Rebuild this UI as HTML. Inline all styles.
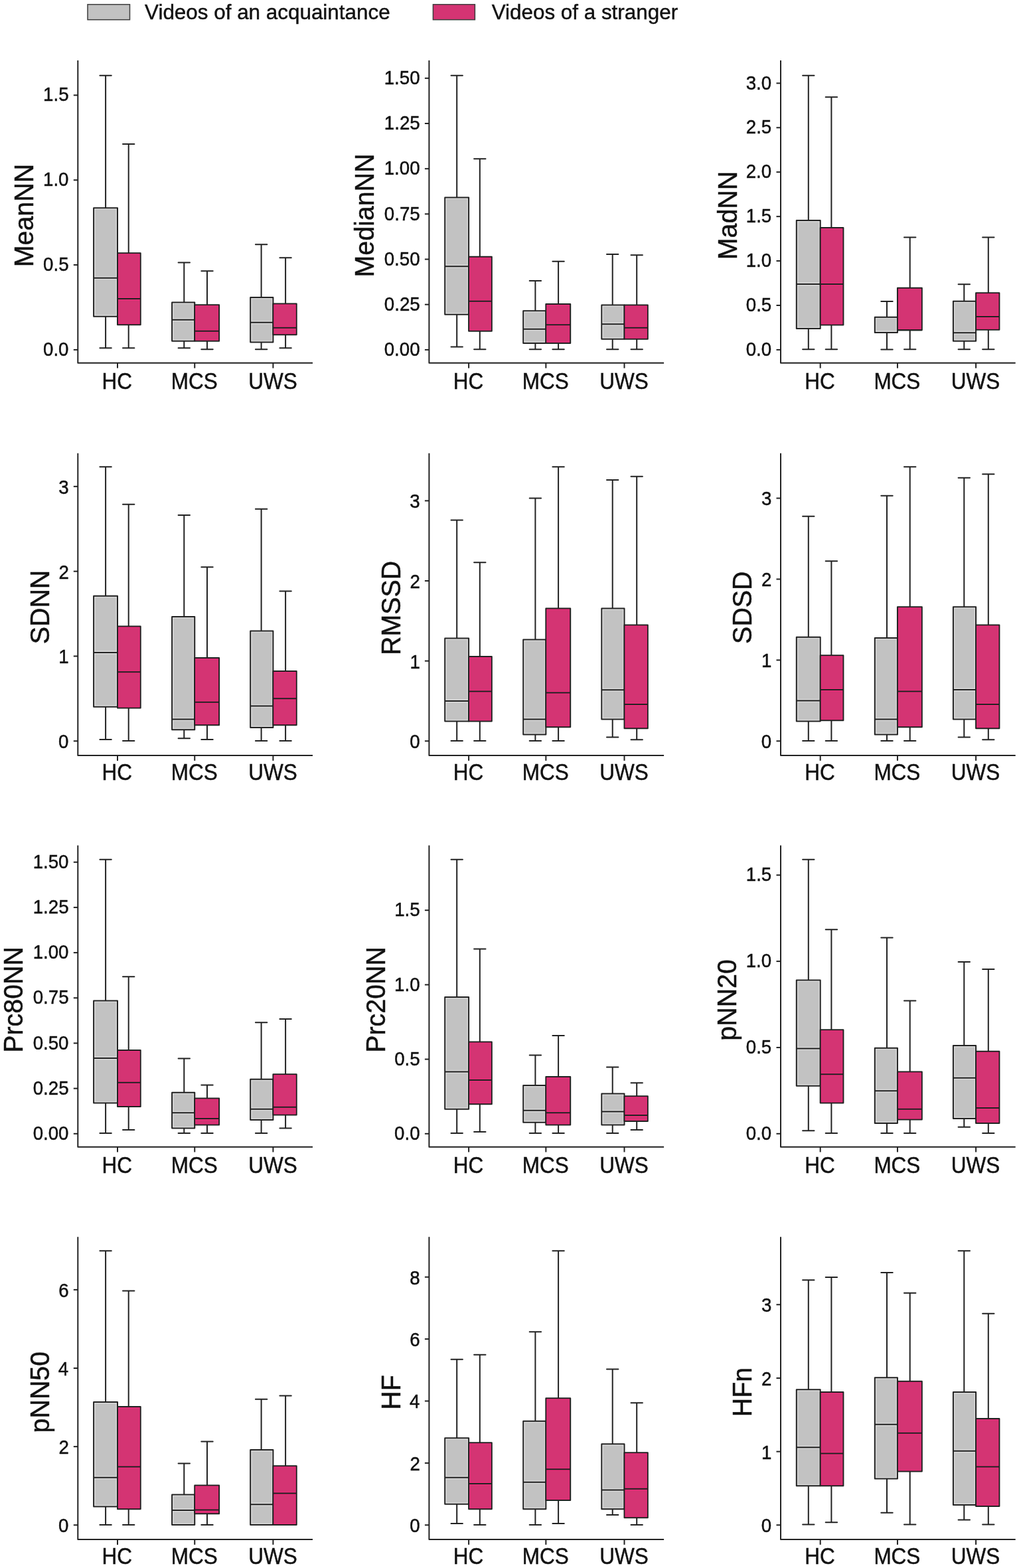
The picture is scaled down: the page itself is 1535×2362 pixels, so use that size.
<!DOCTYPE html>
<html><head><meta charset="utf-8"><title>HRV boxplots</title>
<style>
html,body{margin:0;padding:0;background:#fff;}
body{width:1535px;height:2362px;overflow:hidden;}
svg{display:block;}
.t{font-family:"Liberation Sans",Arial,sans-serif;fill:#111;stroke:#111;stroke-width:0.45px;}
.w{fill:none;stroke:#222;stroke-width:2.0;stroke-linecap:round;}
.b{stroke:#222;stroke-width:2.0;stroke-linejoin:round;}
.m{fill:none;stroke:#222;stroke-width:2.0;}
.a{fill:none;stroke:#222;stroke-width:2.0;stroke-linejoin:round;}
</style></head><body>
<svg width="1535" height="2362" viewBox="0 0 1535 2362">
<rect width="1535" height="2362" fill="#fff"/>
<rect x="132" y="6.7" width="63.5" height="23" fill="#c2c2c2" stroke="#3c3c3c" stroke-width="1.5"/>
<rect x="652.4" y="6.7" width="63" height="23" fill="#d43473" stroke="#3c3c3c" stroke-width="1.5"/>
<text x="218.04" y="29.1" font-size="31.42" class="t">Videos of an acquaintance</text>
<text x="740.64" y="29.1" font-size="31.42" class="t">Videos of a stranger</text>
<g><path d="M159.1 113.75V313.25M150.4 113.75H167.8M159.1 476.75V524.25M150.4 524.25H167.8" class="w"/><rect x="141.1" y="313.25" width="35.9" height="163.5" fill="#c2c2c2" class="b"/><rect x="142.95" y="315.1" width="32.2" height="159.8" fill="none" stroke="#dcdcdc" stroke-width="1.1"/><path d="M142.95 416.9H175.15M142.95 420.6H175.15" stroke="#dcdcdc" stroke-width="1.1" fill="none"/><path d="M141.1 418.75H177" class="m"/><path d="M193.7 217V381.25M185 217H202.4M193.7 489.25V524.25M185 524.25H202.4" class="w"/><rect x="177" y="381.25" width="34.7" height="108" fill="#d43473" class="b"/><rect x="178.85" y="383.1" width="31" height="104.3" fill="none" stroke="#ec2b7a" stroke-width="1.1"/><path d="M178.85 448.15H209.85M178.85 451.85H209.85" stroke="#ec2b7a" stroke-width="1.1" fill="none"/><path d="M177 450H211.7" class="m"/><path d="M277.3 395.5V455.5M268.6 395.5H286M277.3 513.75V524.25M268.6 524.25H286" class="w"/><rect x="259.1" y="455.5" width="34.15" height="58.25" fill="#c2c2c2" class="b"/><rect x="260.95" y="457.35" width="30.45" height="54.55" fill="none" stroke="#dcdcdc" stroke-width="1.1"/><path d="M260.95 479.9H291.4M260.95 483.6H291.4" stroke="#dcdcdc" stroke-width="1.1" fill="none"/><path d="M259.1 481.75H293.25" class="m"/><path d="M312 408.25V459.25M303.3 408.25H320.7M312 513.75V526.25M303.3 526.25H320.7" class="w"/><rect x="293.25" y="459.25" width="36.85" height="54.5" fill="#d43473" class="b"/><rect x="295.1" y="461.1" width="33.15" height="50.8" fill="none" stroke="#ec2b7a" stroke-width="1.1"/><path d="M295.1 496.9H328.25M295.1 500.6H328.25" stroke="#ec2b7a" stroke-width="1.1" fill="none"/><path d="M293.25 498.75H330.1" class="m"/><path d="M393.6 368.25V448M384.9 368.25H402.3M393.6 515.5V526.25M384.9 526.25H402.3" class="w"/><rect x="377.2" y="448" width="34.2" height="67.5" fill="#c2c2c2" class="b"/><rect x="379.05" y="449.85" width="30.5" height="63.8" fill="none" stroke="#dcdcdc" stroke-width="1.1"/><path d="M379.05 483.9H409.55M379.05 487.6H409.55" stroke="#dcdcdc" stroke-width="1.1" fill="none"/><path d="M377.2 485.75H411.4" class="m"/><path d="M430.1 388.25V457.5M421.4 388.25H438.8M430.1 504.25V524.25M421.4 524.25H438.8" class="w"/><rect x="411.4" y="457.5" width="35.3" height="46.75" fill="#d43473" class="b"/><rect x="413.25" y="459.35" width="31.6" height="43.05" fill="none" stroke="#ec2b7a" stroke-width="1.1"/><path d="M413.25 491.9H444.85M413.25 495.6H444.85" stroke="#ec2b7a" stroke-width="1.1" fill="none"/><path d="M411.4 493.75H446.7" class="m"/><path d="M117.3 91.1V546.8H471" class="a"/><path d="M177 546.8V554.6" class="m"/><path d="M293.25 546.8V554.6" class="m"/><path d="M411.4 546.8V554.6" class="m"/><path d="M110.8 526.9H117.3" class="m"/><text class="t" font-size="27.67" transform="translate(65.02 536.08) scale(1 1.07)">0.0</text><path d="M110.8 399.07H117.3" class="m"/><text class="t" font-size="27.67" transform="translate(65.1 408.26) scale(1 1.07)">0.5</text><path d="M110.8 271.25H117.3" class="m"/><text class="t" font-size="27.67" transform="translate(65.02 280.43) scale(1 1.07)">1.0</text><path d="M110.8 143.42H117.3" class="m"/><text class="t" font-size="27.67" transform="translate(65.1 152.46) scale(1 1.07)">1.5</text><text class="t" font-size="31.5" transform="translate(153.56 585.8) scale(1 1.14)">HC</text><text class="t" font-size="31.5" transform="translate(257.69 585.8) scale(1 1.14)">MCS</text><text class="t" font-size="31.5" transform="translate(374.17 585.8) scale(1 1.14)">UWS</text><text class="t" font-size="39.4" transform="translate(50.23 402.26) rotate(-90) scale(1 1.045)">MeanNN</text></g>
<g><path d="M688.2 113.75V297.5M679.5 113.75H696.9M688.2 473.75V522.5M679.5 522.5H696.9" class="w"/><rect x="670.2" y="297.5" width="35.9" height="176.25" fill="#c2c2c2" class="b"/><rect x="672.05" y="299.35" width="32.2" height="172.55" fill="none" stroke="#dcdcdc" stroke-width="1.1"/><path d="M672.05 399.4H704.25M672.05 403.1H704.25" stroke="#dcdcdc" stroke-width="1.1" fill="none"/><path d="M670.2 401.25H706.1" class="m"/><path d="M722.8 239.25V386.75M714.1 239.25H731.5M722.8 498.75V526.25M714.1 526.25H731.5" class="w"/><rect x="706.1" y="386.75" width="34.7" height="112" fill="#d43473" class="b"/><rect x="707.95" y="388.6" width="31" height="108.3" fill="none" stroke="#ec2b7a" stroke-width="1.1"/><path d="M707.95 451.9H738.95M707.95 455.6H738.95" stroke="#ec2b7a" stroke-width="1.1" fill="none"/><path d="M706.1 453.75H740.8" class="m"/><path d="M806.4 423V468.25M797.7 423H815.1M806.4 517V526.25M797.7 526.25H815.1" class="w"/><rect x="788.2" y="468.25" width="34.15" height="48.75" fill="#c2c2c2" class="b"/><rect x="790.05" y="470.1" width="30.45" height="45.05" fill="none" stroke="#dcdcdc" stroke-width="1.1"/><path d="M790.05 493.9H820.5M790.05 497.6H820.5" stroke="#dcdcdc" stroke-width="1.1" fill="none"/><path d="M788.2 495.75H822.35" class="m"/><path d="M841.1 393.75V458M832.4 393.75H849.8M841.1 517V526.25M832.4 526.25H849.8" class="w"/><rect x="822.35" y="458" width="36.85" height="59" fill="#d43473" class="b"/><rect x="824.2" y="459.85" width="33.15" height="55.3" fill="none" stroke="#ec2b7a" stroke-width="1.1"/><path d="M824.2 487.4H857.35M824.2 491.1H857.35" stroke="#ec2b7a" stroke-width="1.1" fill="none"/><path d="M822.35 489.25H859.2" class="m"/><path d="M922.7 383V459.5M914 383H931.4M922.7 510.75V526.25M914 526.25H931.4" class="w"/><rect x="906.3" y="459.5" width="34.2" height="51.25" fill="#c2c2c2" class="b"/><rect x="908.15" y="461.35" width="30.5" height="47.55" fill="none" stroke="#dcdcdc" stroke-width="1.1"/><path d="M908.15 486.4H938.65M908.15 490.1H938.65" stroke="#dcdcdc" stroke-width="1.1" fill="none"/><path d="M906.3 488.25H940.5" class="m"/><path d="M959.2 384.25V459.5M950.5 384.25H967.9M959.2 510.75V526.25M950.5 526.25H967.9" class="w"/><rect x="940.5" y="459.5" width="35.3" height="51.25" fill="#d43473" class="b"/><rect x="942.35" y="461.35" width="31.6" height="47.55" fill="none" stroke="#ec2b7a" stroke-width="1.1"/><path d="M942.35 491.9H973.95M942.35 495.6H973.95" stroke="#ec2b7a" stroke-width="1.1" fill="none"/><path d="M940.5 493.75H975.8" class="m"/><path d="M646.4 91.1V546.8H1000.1" class="a"/><path d="M706.1 546.8V554.6" class="m"/><path d="M822.35 546.8V554.6" class="m"/><path d="M940.5 546.8V554.6" class="m"/><path d="M639.9 526.9H646.4" class="m"/><text class="t" font-size="27.67" transform="translate(578.73 536.08) scale(1 1.07)">0.00</text><path d="M639.9 458.72H646.4" class="m"/><text class="t" font-size="27.67" transform="translate(578.82 467.91) scale(1 1.07)">0.25</text><path d="M639.9 390.54H646.4" class="m"/><text class="t" font-size="27.67" transform="translate(578.73 399.73) scale(1 1.07)">0.50</text><path d="M639.9 322.36H646.4" class="m"/><text class="t" font-size="27.67" transform="translate(578.82 331.55) scale(1 1.07)">0.75</text><path d="M639.9 254.19H646.4" class="m"/><text class="t" font-size="27.67" transform="translate(578.73 263.37) scale(1 1.07)">1.00</text><path d="M639.9 186.01H646.4" class="m"/><text class="t" font-size="27.67" transform="translate(578.82 195.19) scale(1 1.07)">1.25</text><path d="M639.9 117.83H646.4" class="m"/><text class="t" font-size="27.67" transform="translate(578.73 127.01) scale(1 1.07)">1.50</text><text class="t" font-size="31.5" transform="translate(682.66 585.8) scale(1 1.14)">HC</text><text class="t" font-size="31.5" transform="translate(786.79 585.8) scale(1 1.14)">MCS</text><text class="t" font-size="31.5" transform="translate(903.27 585.8) scale(1 1.14)">UWS</text><text class="t" font-size="39.4" transform="translate(563.23 417.58) rotate(-90) scale(1 1.045)">MedianNN</text></g>
<g><path d="M1217.8 113.75V332M1209.1 113.75H1226.5M1217.8 495V526.25M1209.1 526.25H1226.5" class="w"/><rect x="1199.8" y="332" width="35.9" height="163" fill="#c2c2c2" class="b"/><rect x="1201.65" y="333.85" width="32.2" height="159.3" fill="none" stroke="#dcdcdc" stroke-width="1.1"/><path d="M1201.65 426.15H1233.85M1201.65 429.85H1233.85" stroke="#dcdcdc" stroke-width="1.1" fill="none"/><path d="M1199.8 428H1235.7" class="m"/><path d="M1252.4 146.25V343M1243.7 146.25H1261.1M1252.4 489.5V526.25M1243.7 526.25H1261.1" class="w"/><rect x="1235.7" y="343" width="34.7" height="146.5" fill="#d43473" class="b"/><rect x="1237.55" y="344.85" width="31" height="142.8" fill="none" stroke="#ec2b7a" stroke-width="1.1"/><path d="M1237.55 426.15H1268.55M1237.55 429.85H1268.55" stroke="#ec2b7a" stroke-width="1.1" fill="none"/><path d="M1235.7 428H1270.4" class="m"/><path d="M1336 453.9V477.7M1327.3 453.9H1344.7M1336 500.9V526.6M1327.3 526.6H1344.7" class="w"/><rect x="1317.8" y="477.7" width="34.15" height="23.2" fill="#c2c2c2" class="b"/><rect x="1319.65" y="479.55" width="30.45" height="19.5" fill="none" stroke="#dcdcdc" stroke-width="1.1"/><path d="M1319.65 499.05H1350.1" stroke="#dcdcdc" stroke-width="1.1" fill="none"/><path d="M1317.8 500.9H1351.95" class="m"/><path d="M1370.7 357.5V433.75M1362 357.5H1379.4M1370.7 497.3V526.25M1362 526.25H1379.4" class="w"/><rect x="1351.95" y="433.75" width="36.85" height="63.55" fill="#d43473" class="b"/><rect x="1353.8" y="435.6" width="33.15" height="59.85" fill="none" stroke="#ec2b7a" stroke-width="1.1"/><path d="M1353.8 495.45H1386.95" stroke="#ec2b7a" stroke-width="1.1" fill="none"/><path d="M1351.95 497.3H1388.8" class="m"/><path d="M1452.3 428.25V453.75M1443.6 428.25H1461M1452.3 513.75V526.25M1443.6 526.25H1461" class="w"/><rect x="1435.9" y="453.75" width="34.2" height="60" fill="#c2c2c2" class="b"/><rect x="1437.75" y="455.6" width="30.5" height="56.3" fill="none" stroke="#dcdcdc" stroke-width="1.1"/><path d="M1437.75 499.4H1468.25M1437.75 503.1H1468.25" stroke="#dcdcdc" stroke-width="1.1" fill="none"/><path d="M1435.9 501.25H1470.1" class="m"/><path d="M1488.8 357.5V441.25M1480.1 357.5H1497.5M1488.8 496.75V526.25M1480.1 526.25H1497.5" class="w"/><rect x="1470.1" y="441.25" width="35.3" height="55.5" fill="#d43473" class="b"/><rect x="1471.95" y="443.1" width="31.6" height="51.8" fill="none" stroke="#ec2b7a" stroke-width="1.1"/><path d="M1471.95 475.15H1503.55M1471.95 478.85H1503.55" stroke="#ec2b7a" stroke-width="1.1" fill="none"/><path d="M1470.1 477H1505.4" class="m"/><path d="M1176 91.1V546.8H1529.7" class="a"/><path d="M1235.7 546.8V554.6" class="m"/><path d="M1351.95 546.8V554.6" class="m"/><path d="M1470.1 546.8V554.6" class="m"/><path d="M1169.5 526.9H1176" class="m"/><text class="t" font-size="27.67" transform="translate(1123.72 536.08) scale(1 1.07)">0.0</text><path d="M1169.5 459.98H1176" class="m"/><text class="t" font-size="27.67" transform="translate(1123.8 469.17) scale(1 1.07)">0.5</text><path d="M1169.5 393.06H1176" class="m"/><text class="t" font-size="27.67" transform="translate(1123.72 402.25) scale(1 1.07)">1.0</text><path d="M1169.5 326.14H1176" class="m"/><text class="t" font-size="27.67" transform="translate(1123.8 335.18) scale(1 1.07)">1.5</text><path d="M1169.5 259.22H1176" class="m"/><text class="t" font-size="27.67" transform="translate(1123.72 268.41) scale(1 1.07)">2.0</text><path d="M1169.5 192.3H1176" class="m"/><text class="t" font-size="27.67" transform="translate(1123.8 201.49) scale(1 1.07)">2.5</text><path d="M1169.5 125.38H1176" class="m"/><text class="t" font-size="27.67" transform="translate(1123.72 134.57) scale(1 1.07)">3.0</text><text class="t" font-size="31.5" transform="translate(1212.26 585.8) scale(1 1.14)">HC</text><text class="t" font-size="31.5" transform="translate(1316.39 585.8) scale(1 1.14)">MCS</text><text class="t" font-size="31.5" transform="translate(1432.87 585.8) scale(1 1.14)">UWS</text><text class="t" font-size="39.4" transform="translate(1109.53 391.3) rotate(-90) scale(1 1.045)">MadNN</text></g>
<g><path d="M159.1 703.3V897.75M150.4 703.3H167.8M159.1 1064.75V1114M150.4 1114H167.8" class="w"/><rect x="141.1" y="897.75" width="35.9" height="167" fill="#c2c2c2" class="b"/><rect x="142.95" y="899.6" width="32.2" height="163.3" fill="none" stroke="#dcdcdc" stroke-width="1.1"/><path d="M142.95 981.15H175.15M142.95 984.85H175.15" stroke="#dcdcdc" stroke-width="1.1" fill="none"/><path d="M141.1 983H177" class="m"/><path d="M193.7 759.75V943.5M185 759.75H202.4M193.7 1066.5V1116M185 1116H202.4" class="w"/><rect x="177" y="943.5" width="34.7" height="123" fill="#d43473" class="b"/><rect x="178.85" y="945.35" width="31" height="119.3" fill="none" stroke="#ec2b7a" stroke-width="1.1"/><path d="M178.85 1010.4H209.85M178.85 1014.1H209.85" stroke="#ec2b7a" stroke-width="1.1" fill="none"/><path d="M177 1012.25H211.7" class="m"/><path d="M277.3 776V929M268.6 776H286M277.3 1099.25V1112.25M268.6 1112.25H286" class="w"/><rect x="259.1" y="929" width="34.15" height="170.25" fill="#c2c2c2" class="b"/><rect x="260.95" y="930.85" width="30.45" height="166.55" fill="none" stroke="#dcdcdc" stroke-width="1.1"/><path d="M260.95 1081.65H291.4M260.95 1085.35H291.4" stroke="#dcdcdc" stroke-width="1.1" fill="none"/><path d="M259.1 1083.5H293.25" class="m"/><path d="M312 854.25V991M303.3 854.25H320.7M312 1092.25V1114M303.3 1114H320.7" class="w"/><rect x="293.25" y="991" width="36.85" height="101.25" fill="#d43473" class="b"/><rect x="295.1" y="992.85" width="33.15" height="97.55" fill="none" stroke="#ec2b7a" stroke-width="1.1"/><path d="M295.1 1055.9H328.25M295.1 1059.6H328.25" stroke="#ec2b7a" stroke-width="1.1" fill="none"/><path d="M293.25 1057.75H330.1" class="m"/><path d="M393.6 766.75V950.5M384.9 766.75H402.3M393.6 1096V1116M384.9 1116H402.3" class="w"/><rect x="377.2" y="950.5" width="34.2" height="145.5" fill="#c2c2c2" class="b"/><rect x="379.05" y="952.35" width="30.5" height="141.8" fill="none" stroke="#dcdcdc" stroke-width="1.1"/><path d="M379.05 1061.65H409.55M379.05 1065.35H409.55" stroke="#dcdcdc" stroke-width="1.1" fill="none"/><path d="M377.2 1063.5H411.4" class="m"/><path d="M430.1 890.5V1011M421.4 890.5H438.8M430.1 1092.25V1116M421.4 1116H438.8" class="w"/><rect x="411.4" y="1011" width="35.3" height="81.25" fill="#d43473" class="b"/><rect x="413.25" y="1012.85" width="31.6" height="77.55" fill="none" stroke="#ec2b7a" stroke-width="1.1"/><path d="M413.25 1050.4H444.85M413.25 1054.1H444.85" stroke="#ec2b7a" stroke-width="1.1" fill="none"/><path d="M411.4 1052.25H446.7" class="m"/><path d="M117.3 682.8V1138.1H471" class="a"/><path d="M177 1138.1V1145.9" class="m"/><path d="M293.25 1138.1V1145.9" class="m"/><path d="M411.4 1138.1V1145.9" class="m"/><path d="M110.8 1116.3H117.3" class="m"/><text class="t" font-size="27.67" transform="translate(88.09 1127.18) scale(1 1.07)">0</text><path d="M110.8 988.47H117.3" class="m"/><text class="t" font-size="27.67" transform="translate(88.37 999.36) scale(1 1.07)">1</text><path d="M110.8 860.65H117.3" class="m"/><text class="t" font-size="27.67" transform="translate(88.4 871.68) scale(1 1.07)">2</text><path d="M110.8 732.82H117.3" class="m"/><text class="t" font-size="27.67" transform="translate(88.23 743.71) scale(1 1.07)">3</text><text class="t" font-size="31.5" transform="translate(153.56 1175.2) scale(1 1.14)">HC</text><text class="t" font-size="31.5" transform="translate(257.69 1175.2) scale(1 1.14)">MCS</text><text class="t" font-size="31.5" transform="translate(374.17 1175.2) scale(1 1.14)">UWS</text><text class="t" font-size="39.4" transform="translate(73.73 970.32) rotate(-90) scale(1 1.045)">SDNN</text></g>
<g><path d="M688.2 783.5V961.5M679.5 783.5H696.9M688.2 1086.5V1116M679.5 1116H696.9" class="w"/><rect x="670.2" y="961.5" width="35.9" height="125" fill="#c2c2c2" class="b"/><rect x="672.05" y="963.35" width="32.2" height="121.3" fill="none" stroke="#dcdcdc" stroke-width="1.1"/><path d="M672.05 1054.15H704.25M672.05 1057.85H704.25" stroke="#dcdcdc" stroke-width="1.1" fill="none"/><path d="M670.2 1056H706.1" class="m"/><path d="M722.8 847.25V989M714.1 847.25H731.5M722.8 1086.5V1116M714.1 1116H731.5" class="w"/><rect x="706.1" y="989" width="34.7" height="97.5" fill="#d43473" class="b"/><rect x="707.95" y="990.85" width="31" height="93.8" fill="none" stroke="#ec2b7a" stroke-width="1.1"/><path d="M707.95 1039.65H738.95M707.95 1043.35H738.95" stroke="#ec2b7a" stroke-width="1.1" fill="none"/><path d="M706.1 1041.5H740.8" class="m"/><path d="M806.4 750.5V963.5M797.7 750.5H815.1M806.4 1106.5V1116M797.7 1116H815.1" class="w"/><rect x="788.2" y="963.5" width="34.15" height="143" fill="#c2c2c2" class="b"/><rect x="790.05" y="965.35" width="30.45" height="139.3" fill="none" stroke="#dcdcdc" stroke-width="1.1"/><path d="M790.05 1081.65H820.5M790.05 1085.35H820.5" stroke="#dcdcdc" stroke-width="1.1" fill="none"/><path d="M788.2 1083.5H822.35" class="m"/><path d="M841.1 703.3V916.5M832.4 703.3H849.8M841.1 1095.25V1116M832.4 1116H849.8" class="w"/><rect x="822.35" y="916.5" width="36.85" height="178.75" fill="#d43473" class="b"/><rect x="824.2" y="918.35" width="33.15" height="175.05" fill="none" stroke="#ec2b7a" stroke-width="1.1"/><path d="M824.2 1041.65H857.35M824.2 1045.35H857.35" stroke="#ec2b7a" stroke-width="1.1" fill="none"/><path d="M822.35 1043.5H859.2" class="m"/><path d="M922.7 723V916.5M914 723H931.4M922.7 1083.5V1110.5M914 1110.5H931.4" class="w"/><rect x="906.3" y="916.5" width="34.2" height="167" fill="#c2c2c2" class="b"/><rect x="908.15" y="918.35" width="30.5" height="163.3" fill="none" stroke="#dcdcdc" stroke-width="1.1"/><path d="M908.15 1037.4H938.65M908.15 1041.1H938.65" stroke="#dcdcdc" stroke-width="1.1" fill="none"/><path d="M906.3 1039.25H940.5" class="m"/><path d="M959.2 717.75V941.5M950.5 717.75H967.9M959.2 1097.25V1114.25M950.5 1114.25H967.9" class="w"/><rect x="940.5" y="941.5" width="35.3" height="155.75" fill="#d43473" class="b"/><rect x="942.35" y="943.35" width="31.6" height="152.05" fill="none" stroke="#ec2b7a" stroke-width="1.1"/><path d="M942.35 1059.15H973.95M942.35 1062.85H973.95" stroke="#ec2b7a" stroke-width="1.1" fill="none"/><path d="M940.5 1061H975.8" class="m"/><path d="M646.4 682.8V1138.1H1000.1" class="a"/><path d="M706.1 1138.1V1145.9" class="m"/><path d="M822.35 1138.1V1145.9" class="m"/><path d="M940.5 1138.1V1145.9" class="m"/><path d="M639.9 1116.3H646.4" class="m"/><text class="t" font-size="27.67" transform="translate(617.19 1127.18) scale(1 1.07)">0</text><path d="M639.9 995.65H646.4" class="m"/><text class="t" font-size="27.67" transform="translate(617.47 1006.53) scale(1 1.07)">1</text><path d="M639.9 875H646.4" class="m"/><text class="t" font-size="27.67" transform="translate(617.5 886.03) scale(1 1.07)">2</text><path d="M639.9 754.35H646.4" class="m"/><text class="t" font-size="27.67" transform="translate(617.33 765.23) scale(1 1.07)">3</text><text class="t" font-size="31.5" transform="translate(682.66 1175.2) scale(1 1.14)">HC</text><text class="t" font-size="31.5" transform="translate(786.79 1175.2) scale(1 1.14)">MCS</text><text class="t" font-size="31.5" transform="translate(903.27 1175.2) scale(1 1.14)">UWS</text><text class="t" font-size="39.4" transform="translate(602.83 987.01) rotate(-90) scale(1 1.045)">RMSSD</text></g>
<g><path d="M1217.8 777.75V959.75M1209.1 777.75H1226.5M1217.8 1086.5V1116M1209.1 1116H1226.5" class="w"/><rect x="1199.8" y="959.75" width="35.9" height="126.75" fill="#c2c2c2" class="b"/><rect x="1201.65" y="961.6" width="32.2" height="123.05" fill="none" stroke="#dcdcdc" stroke-width="1.1"/><path d="M1201.65 1053.65H1233.85M1201.65 1057.35H1233.85" stroke="#dcdcdc" stroke-width="1.1" fill="none"/><path d="M1199.8 1055.5H1235.7" class="m"/><path d="M1252.4 845.25V987.25M1243.7 845.25H1261.1M1252.4 1085.25V1116M1243.7 1116H1261.1" class="w"/><rect x="1235.7" y="987.25" width="34.7" height="98" fill="#d43473" class="b"/><rect x="1237.55" y="989.1" width="31" height="94.3" fill="none" stroke="#ec2b7a" stroke-width="1.1"/><path d="M1237.55 1037.15H1268.55M1237.55 1040.85H1268.55" stroke="#ec2b7a" stroke-width="1.1" fill="none"/><path d="M1235.7 1039H1270.4" class="m"/><path d="M1336 746.75V961M1327.3 746.75H1344.7M1336 1106.5V1116M1327.3 1116H1344.7" class="w"/><rect x="1317.8" y="961" width="34.15" height="145.5" fill="#c2c2c2" class="b"/><rect x="1319.65" y="962.85" width="30.45" height="141.8" fill="none" stroke="#dcdcdc" stroke-width="1.1"/><path d="M1319.65 1081.65H1350.1M1319.65 1085.35H1350.1" stroke="#dcdcdc" stroke-width="1.1" fill="none"/><path d="M1317.8 1083.5H1351.95" class="m"/><path d="M1370.7 703.3V914.25M1362 703.3H1379.4M1370.7 1095.25V1116M1362 1116H1379.4" class="w"/><rect x="1351.95" y="914.25" width="36.85" height="181" fill="#d43473" class="b"/><rect x="1353.8" y="916.1" width="33.15" height="177.3" fill="none" stroke="#ec2b7a" stroke-width="1.1"/><path d="M1353.8 1039.65H1386.95M1353.8 1043.35H1386.95" stroke="#ec2b7a" stroke-width="1.1" fill="none"/><path d="M1351.95 1041.5H1388.8" class="m"/><path d="M1452.3 719.75V914.25M1443.6 719.75H1461M1452.3 1083.5V1110.5M1443.6 1110.5H1461" class="w"/><rect x="1435.9" y="914.25" width="34.2" height="169.25" fill="#c2c2c2" class="b"/><rect x="1437.75" y="916.1" width="30.5" height="165.55" fill="none" stroke="#dcdcdc" stroke-width="1.1"/><path d="M1437.75 1037.15H1468.25M1437.75 1040.85H1468.25" stroke="#dcdcdc" stroke-width="1.1" fill="none"/><path d="M1435.9 1039H1470.1" class="m"/><path d="M1488.8 714.25V941.5M1480.1 714.25H1497.5M1488.8 1097.25V1114.25M1480.1 1114.25H1497.5" class="w"/><rect x="1470.1" y="941.5" width="35.3" height="155.75" fill="#d43473" class="b"/><rect x="1471.95" y="943.35" width="31.6" height="152.05" fill="none" stroke="#ec2b7a" stroke-width="1.1"/><path d="M1471.95 1059.15H1503.55M1471.95 1062.85H1503.55" stroke="#ec2b7a" stroke-width="1.1" fill="none"/><path d="M1470.1 1061H1505.4" class="m"/><path d="M1176 682.8V1138.1H1529.7" class="a"/><path d="M1235.7 1138.1V1145.9" class="m"/><path d="M1351.95 1138.1V1145.9" class="m"/><path d="M1470.1 1138.1V1145.9" class="m"/><path d="M1169.5 1116.3H1176" class="m"/><text class="t" font-size="27.67" transform="translate(1146.79 1127.18) scale(1 1.07)">0</text><path d="M1169.5 994.37H1176" class="m"/><text class="t" font-size="27.67" transform="translate(1147.07 1005.26) scale(1 1.07)">1</text><path d="M1169.5 872.45H1176" class="m"/><text class="t" font-size="27.67" transform="translate(1147.1 883.48) scale(1 1.07)">2</text><path d="M1169.5 750.52H1176" class="m"/><text class="t" font-size="27.67" transform="translate(1146.93 761.41) scale(1 1.07)">3</text><text class="t" font-size="31.5" transform="translate(1212.26 1175.2) scale(1 1.14)">HC</text><text class="t" font-size="31.5" transform="translate(1316.39 1175.2) scale(1 1.14)">MCS</text><text class="t" font-size="31.5" transform="translate(1432.87 1175.2) scale(1 1.14)">UWS</text><text class="t" font-size="39.4" transform="translate(1132.43 969.89) rotate(-90) scale(1 1.045)">SDSD</text></g>
<g><path d="M159.1 1294.7V1507.5M150.4 1294.7H167.8M159.1 1661.5V1707M150.4 1707H167.8" class="w"/><rect x="141.1" y="1507.5" width="35.9" height="154" fill="#c2c2c2" class="b"/><rect x="142.95" y="1509.35" width="32.2" height="150.3" fill="none" stroke="#dcdcdc" stroke-width="1.1"/><path d="M142.95 1592.15H175.15M142.95 1595.85H175.15" stroke="#dcdcdc" stroke-width="1.1" fill="none"/><path d="M141.1 1594H177" class="m"/><path d="M193.7 1471.25V1582M185 1471.25H202.4M193.7 1667V1702M185 1702H202.4" class="w"/><rect x="177" y="1582" width="34.7" height="85" fill="#d43473" class="b"/><rect x="178.85" y="1583.85" width="31" height="81.3" fill="none" stroke="#ec2b7a" stroke-width="1.1"/><path d="M178.85 1628.9H209.85M178.85 1632.6H209.85" stroke="#ec2b7a" stroke-width="1.1" fill="none"/><path d="M177 1630.75H211.7" class="m"/><path d="M277.3 1594.5V1645.75M268.6 1594.5H286M277.3 1699.5V1707M268.6 1707H286" class="w"/><rect x="259.1" y="1645.75" width="34.15" height="53.75" fill="#c2c2c2" class="b"/><rect x="260.95" y="1647.6" width="30.45" height="50.05" fill="none" stroke="#dcdcdc" stroke-width="1.1"/><path d="M260.95 1674.4H291.4M260.95 1678.1H291.4" stroke="#dcdcdc" stroke-width="1.1" fill="none"/><path d="M259.1 1676.25H293.25" class="m"/><path d="M312 1634.5V1654.5M303.3 1634.5H320.7M312 1694.5V1707M303.3 1707H320.7" class="w"/><rect x="293.25" y="1654.5" width="36.85" height="40" fill="#d43473" class="b"/><rect x="295.1" y="1656.35" width="33.15" height="36.3" fill="none" stroke="#ec2b7a" stroke-width="1.1"/><path d="M295.1 1683.15H328.25M295.1 1686.85H328.25" stroke="#ec2b7a" stroke-width="1.1" fill="none"/><path d="M293.25 1685H330.1" class="m"/><path d="M393.6 1540.25V1625.75M384.9 1540.25H402.3M393.6 1687V1707M384.9 1707H402.3" class="w"/><rect x="377.2" y="1625.75" width="34.2" height="61.25" fill="#c2c2c2" class="b"/><rect x="379.05" y="1627.6" width="30.5" height="57.55" fill="none" stroke="#dcdcdc" stroke-width="1.1"/><path d="M379.05 1668.9H409.55M379.05 1672.6H409.55" stroke="#dcdcdc" stroke-width="1.1" fill="none"/><path d="M377.2 1670.75H411.4" class="m"/><path d="M430.1 1535V1618.25M421.4 1535H438.8M430.1 1679.5V1699.5M421.4 1699.5H438.8" class="w"/><rect x="411.4" y="1618.25" width="35.3" height="61.25" fill="#d43473" class="b"/><rect x="413.25" y="1620.1" width="31.6" height="57.55" fill="none" stroke="#ec2b7a" stroke-width="1.1"/><path d="M413.25 1665.9H444.85M413.25 1669.6H444.85" stroke="#ec2b7a" stroke-width="1.1" fill="none"/><path d="M411.4 1667.75H446.7" class="m"/><path d="M117.3 1273.6V1727.7H471" class="a"/><path d="M177 1727.7V1735.5" class="m"/><path d="M293.25 1727.7V1735.5" class="m"/><path d="M411.4 1727.7V1735.5" class="m"/><path d="M110.8 1707.8H117.3" class="m"/><text class="t" font-size="27.67" transform="translate(49.63 1716.98) scale(1 1.07)">0.00</text><path d="M110.8 1639.62H117.3" class="m"/><text class="t" font-size="27.67" transform="translate(49.72 1648.81) scale(1 1.07)">0.25</text><path d="M110.8 1571.44H117.3" class="m"/><text class="t" font-size="27.67" transform="translate(49.63 1580.63) scale(1 1.07)">0.50</text><path d="M110.8 1503.26H117.3" class="m"/><text class="t" font-size="27.67" transform="translate(49.72 1512.45) scale(1 1.07)">0.75</text><path d="M110.8 1435.09H117.3" class="m"/><text class="t" font-size="27.67" transform="translate(49.63 1444.27) scale(1 1.07)">1.00</text><path d="M110.8 1366.91H117.3" class="m"/><text class="t" font-size="27.67" transform="translate(49.72 1376.09) scale(1 1.07)">1.25</text><path d="M110.8 1298.73H117.3" class="m"/><text class="t" font-size="27.67" transform="translate(49.63 1307.91) scale(1 1.07)">1.50</text><text class="t" font-size="31.5" transform="translate(153.56 1766.7) scale(1 1.14)">HC</text><text class="t" font-size="31.5" transform="translate(257.69 1766.7) scale(1 1.14)">MCS</text><text class="t" font-size="31.5" transform="translate(374.17 1766.7) scale(1 1.14)">UWS</text><text class="t" font-size="39.4" transform="translate(34.33 1585.84) rotate(-90) scale(1 1.045)">Prc80NN</text></g>
<g><path d="M688.2 1294.7V1502M679.5 1294.7H696.9M688.2 1670.75V1707M679.5 1707H696.9" class="w"/><rect x="670.2" y="1502" width="35.9" height="168.75" fill="#c2c2c2" class="b"/><rect x="672.05" y="1503.85" width="32.2" height="165.05" fill="none" stroke="#dcdcdc" stroke-width="1.1"/><path d="M672.05 1612.65H704.25M672.05 1616.35H704.25" stroke="#dcdcdc" stroke-width="1.1" fill="none"/><path d="M670.2 1614.5H706.1" class="m"/><path d="M722.8 1429.5V1569.5M714.1 1429.5H731.5M722.8 1663.25V1705M714.1 1705H731.5" class="w"/><rect x="706.1" y="1569.5" width="34.7" height="93.75" fill="#d43473" class="b"/><rect x="707.95" y="1571.35" width="31" height="90.05" fill="none" stroke="#ec2b7a" stroke-width="1.1"/><path d="M707.95 1625.15H738.95M707.95 1628.85H738.95" stroke="#ec2b7a" stroke-width="1.1" fill="none"/><path d="M706.1 1627H740.8" class="m"/><path d="M806.4 1589.5V1635M797.7 1589.5H815.1M806.4 1690.75V1707M797.7 1707H815.1" class="w"/><rect x="788.2" y="1635" width="34.15" height="55.75" fill="#c2c2c2" class="b"/><rect x="790.05" y="1636.85" width="30.45" height="52.05" fill="none" stroke="#dcdcdc" stroke-width="1.1"/><path d="M790.05 1670.9H820.5M790.05 1674.6H820.5" stroke="#dcdcdc" stroke-width="1.1" fill="none"/><path d="M788.2 1672.75H822.35" class="m"/><path d="M841.1 1560V1622M832.4 1560H849.8M841.1 1694.5V1707M832.4 1707H849.8" class="w"/><rect x="822.35" y="1622" width="36.85" height="72.5" fill="#d43473" class="b"/><rect x="824.2" y="1623.85" width="33.15" height="68.8" fill="none" stroke="#ec2b7a" stroke-width="1.1"/><path d="M824.2 1674.4H857.35M824.2 1678.1H857.35" stroke="#ec2b7a" stroke-width="1.1" fill="none"/><path d="M822.35 1676.25H859.2" class="m"/><path d="M922.7 1607.5V1647.5M914 1607.5H931.4M922.7 1694.5V1707M914 1707H931.4" class="w"/><rect x="906.3" y="1647.5" width="34.2" height="47" fill="#c2c2c2" class="b"/><rect x="908.15" y="1649.35" width="30.5" height="43.3" fill="none" stroke="#dcdcdc" stroke-width="1.1"/><path d="M908.15 1672.65H938.65M908.15 1676.35H938.65" stroke="#dcdcdc" stroke-width="1.1" fill="none"/><path d="M906.3 1674.5H940.5" class="m"/><path d="M959.2 1631.25V1651.25M950.5 1631.25H967.9M959.2 1689V1702M950.5 1702H967.9" class="w"/><rect x="940.5" y="1651.25" width="35.3" height="37.75" fill="#d43473" class="b"/><rect x="942.35" y="1653.1" width="31.6" height="34.05" fill="none" stroke="#ec2b7a" stroke-width="1.1"/><path d="M942.35 1678.15H973.95M942.35 1681.85H973.95" stroke="#ec2b7a" stroke-width="1.1" fill="none"/><path d="M940.5 1680H975.8" class="m"/><path d="M646.4 1273.6V1727.7H1000.1" class="a"/><path d="M706.1 1727.7V1735.5" class="m"/><path d="M822.35 1727.7V1735.5" class="m"/><path d="M940.5 1727.7V1735.5" class="m"/><path d="M639.9 1707.8H646.4" class="m"/><text class="t" font-size="27.67" transform="translate(594.12 1716.98) scale(1 1.07)">0.0</text><path d="M639.9 1595.6H646.4" class="m"/><text class="t" font-size="27.67" transform="translate(594.2 1604.78) scale(1 1.07)">0.5</text><path d="M639.9 1483.4H646.4" class="m"/><text class="t" font-size="27.67" transform="translate(594.12 1492.58) scale(1 1.07)">1.0</text><path d="M639.9 1371.2H646.4" class="m"/><text class="t" font-size="27.67" transform="translate(594.2 1380.24) scale(1 1.07)">1.5</text><text class="t" font-size="31.5" transform="translate(682.66 1766.7) scale(1 1.14)">HC</text><text class="t" font-size="31.5" transform="translate(786.79 1766.7) scale(1 1.14)">MCS</text><text class="t" font-size="31.5" transform="translate(903.27 1766.7) scale(1 1.14)">UWS</text><text class="t" font-size="39.4" transform="translate(579.53 1585.84) rotate(-90) scale(1 1.045)">Prc20NN</text></g>
<g><path d="M1217.8 1294.7V1476.5M1209.1 1294.7H1226.5M1217.8 1635.75V1703.25M1209.1 1703.25H1226.5" class="w"/><rect x="1199.8" y="1476.5" width="35.9" height="159.25" fill="#c2c2c2" class="b"/><rect x="1201.65" y="1478.35" width="32.2" height="155.55" fill="none" stroke="#dcdcdc" stroke-width="1.1"/><path d="M1201.65 1577.65H1233.85M1201.65 1581.35H1233.85" stroke="#dcdcdc" stroke-width="1.1" fill="none"/><path d="M1199.8 1579.5H1235.7" class="m"/><path d="M1252.4 1400.25V1551.25M1243.7 1400.25H1261.1M1252.4 1661.5V1707M1243.7 1707H1261.1" class="w"/><rect x="1235.7" y="1551.25" width="34.7" height="110.25" fill="#d43473" class="b"/><rect x="1237.55" y="1553.1" width="31" height="106.55" fill="none" stroke="#ec2b7a" stroke-width="1.1"/><path d="M1237.55 1616.4H1268.55M1237.55 1620.1H1268.55" stroke="#ec2b7a" stroke-width="1.1" fill="none"/><path d="M1235.7 1618.25H1270.4" class="m"/><path d="M1336 1412.5V1578.75M1327.3 1412.5H1344.7M1336 1692V1707M1327.3 1707H1344.7" class="w"/><rect x="1317.8" y="1578.75" width="34.15" height="113.25" fill="#c2c2c2" class="b"/><rect x="1319.65" y="1580.6" width="30.45" height="109.55" fill="none" stroke="#dcdcdc" stroke-width="1.1"/><path d="M1319.65 1641.4H1350.1M1319.65 1645.1H1350.1" stroke="#dcdcdc" stroke-width="1.1" fill="none"/><path d="M1317.8 1643.25H1351.95" class="m"/><path d="M1370.7 1507.5V1614.5M1362 1507.5H1379.4M1370.7 1686.5V1707M1362 1707H1379.4" class="w"/><rect x="1351.95" y="1614.5" width="36.85" height="72" fill="#d43473" class="b"/><rect x="1353.8" y="1616.35" width="33.15" height="68.3" fill="none" stroke="#ec2b7a" stroke-width="1.1"/><path d="M1353.8 1668.9H1386.95M1353.8 1672.6H1386.95" stroke="#ec2b7a" stroke-width="1.1" fill="none"/><path d="M1351.95 1670.75H1388.8" class="m"/><path d="M1452.3 1449V1575M1443.6 1449H1461M1452.3 1685V1697.75M1443.6 1697.75H1461" class="w"/><rect x="1435.9" y="1575" width="34.2" height="110" fill="#c2c2c2" class="b"/><rect x="1437.75" y="1576.85" width="30.5" height="106.3" fill="none" stroke="#dcdcdc" stroke-width="1.1"/><path d="M1437.75 1621.9H1468.25M1437.75 1625.6H1468.25" stroke="#dcdcdc" stroke-width="1.1" fill="none"/><path d="M1435.9 1623.75H1470.1" class="m"/><path d="M1488.8 1460V1583.75M1480.1 1460H1497.5M1488.8 1692V1707M1480.1 1707H1497.5" class="w"/><rect x="1470.1" y="1583.75" width="35.3" height="108.25" fill="#d43473" class="b"/><rect x="1471.95" y="1585.6" width="31.6" height="104.55" fill="none" stroke="#ec2b7a" stroke-width="1.1"/><path d="M1471.95 1667.15H1503.55M1471.95 1670.85H1503.55" stroke="#ec2b7a" stroke-width="1.1" fill="none"/><path d="M1470.1 1669H1505.4" class="m"/><path d="M1176 1273.6V1727.7H1529.7" class="a"/><path d="M1235.7 1727.7V1735.5" class="m"/><path d="M1351.95 1727.7V1735.5" class="m"/><path d="M1470.1 1727.7V1735.5" class="m"/><path d="M1169.5 1707.8H1176" class="m"/><text class="t" font-size="27.67" transform="translate(1123.72 1716.98) scale(1 1.07)">0.0</text><path d="M1169.5 1577.95H1176" class="m"/><text class="t" font-size="27.67" transform="translate(1123.8 1587.13) scale(1 1.07)">0.5</text><path d="M1169.5 1448.1H1176" class="m"/><text class="t" font-size="27.67" transform="translate(1123.72 1457.28) scale(1 1.07)">1.0</text><path d="M1169.5 1318.25H1176" class="m"/><text class="t" font-size="27.67" transform="translate(1123.8 1327.29) scale(1 1.07)">1.5</text><text class="t" font-size="31.5" transform="translate(1212.26 1766.7) scale(1 1.14)">HC</text><text class="t" font-size="31.5" transform="translate(1316.39 1766.7) scale(1 1.14)">MCS</text><text class="t" font-size="31.5" transform="translate(1432.87 1766.7) scale(1 1.14)">UWS</text><text class="t" font-size="39.4" transform="translate(1109.13 1567.72) rotate(-90) scale(1 1.045)">pNN20</text></g>
<g><path d="M159.1 1884.3V2112M150.4 1884.3H167.8M159.1 2269.5V2297M150.4 2297H167.8" class="w"/><rect x="141.1" y="2112" width="35.9" height="157.5" fill="#c2c2c2" class="b"/><rect x="142.95" y="2113.85" width="32.2" height="153.8" fill="none" stroke="#dcdcdc" stroke-width="1.1"/><path d="M142.95 2223.9H175.15M142.95 2227.6H175.15" stroke="#dcdcdc" stroke-width="1.1" fill="none"/><path d="M141.1 2225.75H177" class="m"/><path d="M193.7 1944.5V2119M185 1944.5H202.4M193.7 2273.25V2297M185 2297H202.4" class="w"/><rect x="177" y="2119" width="34.7" height="154.25" fill="#d43473" class="b"/><rect x="178.85" y="2120.85" width="31" height="150.55" fill="none" stroke="#ec2b7a" stroke-width="1.1"/><path d="M178.85 2207.65H209.85M178.85 2211.35H209.85" stroke="#ec2b7a" stroke-width="1.1" fill="none"/><path d="M177 2209.5H211.7" class="m"/><path d="M277.3 2204.5V2251.5M268.6 2204.5H286" class="w"/><rect x="259.1" y="2251.5" width="34.15" height="45.5" fill="#c2c2c2" class="b"/><rect x="260.95" y="2253.35" width="30.45" height="41.8" fill="none" stroke="#dcdcdc" stroke-width="1.1"/><path d="M260.95 2273.15H291.4M260.95 2276.85H291.4" stroke="#dcdcdc" stroke-width="1.1" fill="none"/><path d="M259.1 2275H293.25" class="m"/><path d="M312 2171.5V2237.5M303.3 2171.5H320.7M312 2280.25V2297M303.3 2297H320.7" class="w"/><rect x="293.25" y="2237.5" width="36.85" height="42.75" fill="#d43473" class="b"/><rect x="295.1" y="2239.35" width="33.15" height="39.05" fill="none" stroke="#ec2b7a" stroke-width="1.1"/><path d="M295.1 2272.65H328.25M295.1 2276.35H328.25" stroke="#ec2b7a" stroke-width="1.1" fill="none"/><path d="M293.25 2274.5H330.1" class="m"/><path d="M393.6 2107.75V2184M384.9 2107.75H402.3" class="w"/><rect x="377.2" y="2184" width="34.2" height="113" fill="#c2c2c2" class="b"/><rect x="379.05" y="2185.85" width="30.5" height="109.3" fill="none" stroke="#dcdcdc" stroke-width="1.1"/><path d="M379.05 2264.4H409.55M379.05 2268.1H409.55" stroke="#dcdcdc" stroke-width="1.1" fill="none"/><path d="M377.2 2266.25H411.4" class="m"/><path d="M430.1 2102.5V2208.25M421.4 2102.5H438.8" class="w"/><rect x="411.4" y="2208.25" width="35.3" height="88.75" fill="#d43473" class="b"/><rect x="413.25" y="2210.1" width="31.6" height="85.05" fill="none" stroke="#ec2b7a" stroke-width="1.1"/><path d="M413.25 2247.65H444.85M413.25 2251.35H444.85" stroke="#ec2b7a" stroke-width="1.1" fill="none"/><path d="M411.4 2249.5H446.7" class="m"/><path d="M117.3 1863.3V2319.1H471" class="a"/><path d="M177 2319.1V2326.9" class="m"/><path d="M293.25 2319.1V2326.9" class="m"/><path d="M411.4 2319.1V2326.9" class="m"/><path d="M110.8 2297.3H117.3" class="m"/><text class="t" font-size="27.67" transform="translate(88.09 2308.28) scale(1 1.07)">0</text><path d="M110.8 2179.15H117.3" class="m"/><text class="t" font-size="27.67" transform="translate(88.4 2190.28) scale(1 1.07)">2</text><path d="M110.8 2061H117.3" class="m"/><text class="t" font-size="27.67" transform="translate(87.82 2071.98) scale(1 1.07)">4</text><path d="M110.8 1942.85H117.3" class="m"/><text class="t" font-size="27.67" transform="translate(88.23 1953.83) scale(1 1.07)">6</text><text class="t" font-size="31.5" transform="translate(153.56 2356.2) scale(1 1.14)">HC</text><text class="t" font-size="31.5" transform="translate(257.69 2356.2) scale(1 1.14)">MCS</text><text class="t" font-size="31.5" transform="translate(374.17 2356.2) scale(1 1.14)">UWS</text><text class="t" font-size="39.4" transform="translate(73.73 2158.42) rotate(-90) scale(1 1.045)">pNN50</text></g>
<g><path d="M688.2 2047.75V2166.25M679.5 2047.75H696.9M688.2 2265.75V2295M679.5 2295H696.9" class="w"/><rect x="670.2" y="2166.25" width="35.9" height="99.5" fill="#c2c2c2" class="b"/><rect x="672.05" y="2168.1" width="32.2" height="95.8" fill="none" stroke="#dcdcdc" stroke-width="1.1"/><path d="M672.05 2223.9H704.25M672.05 2227.6H704.25" stroke="#dcdcdc" stroke-width="1.1" fill="none"/><path d="M670.2 2225.75H706.1" class="m"/><path d="M722.8 2040.75V2173.25M714.1 2040.75H731.5M722.8 2273.25V2297M714.1 2297H731.5" class="w"/><rect x="706.1" y="2173.25" width="34.7" height="100" fill="#d43473" class="b"/><rect x="707.95" y="2175.1" width="31" height="96.3" fill="none" stroke="#ec2b7a" stroke-width="1.1"/><path d="M707.95 2233.15H738.95M707.95 2236.85H738.95" stroke="#ec2b7a" stroke-width="1.1" fill="none"/><path d="M706.1 2235H740.8" class="m"/><path d="M806.4 2006.25V2140.75M797.7 2006.25H815.1M806.4 2273.25V2297M797.7 2297H815.1" class="w"/><rect x="788.2" y="2140.75" width="34.15" height="132.5" fill="#c2c2c2" class="b"/><rect x="790.05" y="2142.6" width="30.45" height="128.8" fill="none" stroke="#dcdcdc" stroke-width="1.1"/><path d="M790.05 2230.9H820.5M790.05 2234.6H820.5" stroke="#dcdcdc" stroke-width="1.1" fill="none"/><path d="M788.2 2232.75H822.35" class="m"/><path d="M841.1 1884.3V2106.25M832.4 1884.3H849.8M841.1 2260V2295M832.4 2295H849.8" class="w"/><rect x="822.35" y="2106.25" width="36.85" height="153.75" fill="#d43473" class="b"/><rect x="824.2" y="2108.1" width="33.15" height="150.05" fill="none" stroke="#ec2b7a" stroke-width="1.1"/><path d="M824.2 2211.4H857.35M824.2 2215.1H857.35" stroke="#ec2b7a" stroke-width="1.1" fill="none"/><path d="M822.35 2213.25H859.2" class="m"/><path d="M922.7 2062.5V2175.25M914 2062.5H931.4M922.7 2273.25V2282M914 2282H931.4" class="w"/><rect x="906.3" y="2175.25" width="34.2" height="98" fill="#c2c2c2" class="b"/><rect x="908.15" y="2177.1" width="30.5" height="94.3" fill="none" stroke="#dcdcdc" stroke-width="1.1"/><path d="M908.15 2242.65H938.65M908.15 2246.35H938.65" stroke="#dcdcdc" stroke-width="1.1" fill="none"/><path d="M906.3 2244.5H940.5" class="m"/><path d="M959.2 2113.25V2188.25M950.5 2113.25H967.9M959.2 2286.25V2297M950.5 2297H967.9" class="w"/><rect x="940.5" y="2188.25" width="35.3" height="98" fill="#d43473" class="b"/><rect x="942.35" y="2190.1" width="31.6" height="94.3" fill="none" stroke="#ec2b7a" stroke-width="1.1"/><path d="M942.35 2240.9H973.95M942.35 2244.6H973.95" stroke="#ec2b7a" stroke-width="1.1" fill="none"/><path d="M940.5 2242.75H975.8" class="m"/><path d="M646.4 1863.3V2319.1H1000.1" class="a"/><path d="M706.1 2319.1V2326.9" class="m"/><path d="M822.35 2319.1V2326.9" class="m"/><path d="M940.5 2319.1V2326.9" class="m"/><path d="M639.9 2297.3H646.4" class="m"/><text class="t" font-size="27.67" transform="translate(617.19 2308.28) scale(1 1.07)">0</text><path d="M639.9 2203.9H646.4" class="m"/><text class="t" font-size="27.67" transform="translate(617.5 2215.03) scale(1 1.07)">2</text><path d="M639.9 2110.5H646.4" class="m"/><text class="t" font-size="27.67" transform="translate(616.92 2121.48) scale(1 1.07)">4</text><path d="M639.9 2017.1H646.4" class="m"/><text class="t" font-size="27.67" transform="translate(617.33 2028.08) scale(1 1.07)">6</text><path d="M639.9 1923.7H646.4" class="m"/><text class="t" font-size="27.67" transform="translate(617.31 1934.68) scale(1 1.07)">8</text><text class="t" font-size="31.5" transform="translate(682.66 2356.2) scale(1 1.14)">HC</text><text class="t" font-size="31.5" transform="translate(786.79 2356.2) scale(1 1.14)">MCS</text><text class="t" font-size="31.5" transform="translate(903.27 2356.2) scale(1 1.14)">UWS</text><text class="t" font-size="39.4" transform="translate(602.83 2123.69) rotate(-90) scale(1 1.045)">HF</text></g>
<g><path d="M1217.8 1928.25V2093.25M1209.1 1928.25H1226.5M1217.8 2238.25V2296.5M1209.1 2296.5H1226.5" class="w"/><rect x="1199.8" y="2093.25" width="35.9" height="145" fill="#c2c2c2" class="b"/><rect x="1201.65" y="2095.1" width="32.2" height="141.3" fill="none" stroke="#dcdcdc" stroke-width="1.1"/><path d="M1201.65 2178.4H1233.85M1201.65 2182.1H1233.85" stroke="#dcdcdc" stroke-width="1.1" fill="none"/><path d="M1199.8 2180.25H1235.7" class="m"/><path d="M1252.4 1924V2097M1243.7 1924H1261.1M1252.4 2238.25V2293.25M1243.7 2293.25H1261.1" class="w"/><rect x="1235.7" y="2097" width="34.7" height="141.25" fill="#d43473" class="b"/><rect x="1237.55" y="2098.85" width="31" height="137.55" fill="none" stroke="#ec2b7a" stroke-width="1.1"/><path d="M1237.55 2187.65H1268.55M1237.55 2191.35H1268.55" stroke="#ec2b7a" stroke-width="1.1" fill="none"/><path d="M1235.7 2189.5H1270.4" class="m"/><path d="M1336 1917V2075.25M1327.3 1917H1344.7M1336 2227.5V2278.75M1327.3 2278.75H1344.7" class="w"/><rect x="1317.8" y="2075.25" width="34.15" height="152.25" fill="#c2c2c2" class="b"/><rect x="1319.65" y="2077.1" width="30.45" height="148.55" fill="none" stroke="#dcdcdc" stroke-width="1.1"/><path d="M1319.65 2143.9H1350.1M1319.65 2147.6H1350.1" stroke="#dcdcdc" stroke-width="1.1" fill="none"/><path d="M1317.8 2145.75H1351.95" class="m"/><path d="M1370.7 1947.75V2080.75M1362 1947.75H1379.4M1370.7 2216.5V2296.5M1362 2296.5H1379.4" class="w"/><rect x="1351.95" y="2080.75" width="36.85" height="135.75" fill="#d43473" class="b"/><rect x="1353.8" y="2082.6" width="33.15" height="132.05" fill="none" stroke="#ec2b7a" stroke-width="1.1"/><path d="M1353.8 2156.9H1386.95M1353.8 2160.6H1386.95" stroke="#ec2b7a" stroke-width="1.1" fill="none"/><path d="M1351.95 2158.75H1388.8" class="m"/><path d="M1452.3 1884.3V2097M1443.6 1884.3H1461M1452.3 2267V2289.5M1443.6 2289.5H1461" class="w"/><rect x="1435.9" y="2097" width="34.2" height="170" fill="#c2c2c2" class="b"/><rect x="1437.75" y="2098.85" width="30.5" height="166.3" fill="none" stroke="#dcdcdc" stroke-width="1.1"/><path d="M1437.75 2183.9H1468.25M1437.75 2187.6H1468.25" stroke="#dcdcdc" stroke-width="1.1" fill="none"/><path d="M1435.9 2185.75H1470.1" class="m"/><path d="M1488.8 1978.75V2137M1480.1 1978.75H1497.5M1488.8 2269V2296.5M1480.1 2296.5H1497.5" class="w"/><rect x="1470.1" y="2137" width="35.3" height="132" fill="#d43473" class="b"/><rect x="1471.95" y="2138.85" width="31.6" height="128.3" fill="none" stroke="#ec2b7a" stroke-width="1.1"/><path d="M1471.95 2207.65H1503.55M1471.95 2211.35H1503.55" stroke="#ec2b7a" stroke-width="1.1" fill="none"/><path d="M1470.1 2209.5H1505.4" class="m"/><path d="M1176 1863.3V2319.1H1529.7" class="a"/><path d="M1235.7 2319.1V2326.9" class="m"/><path d="M1351.95 2319.1V2326.9" class="m"/><path d="M1470.1 2319.1V2326.9" class="m"/><path d="M1169.5 2297.3H1176" class="m"/><text class="t" font-size="27.67" transform="translate(1146.79 2308.28) scale(1 1.07)">0</text><path d="M1169.5 2186.62H1176" class="m"/><text class="t" font-size="27.67" transform="translate(1147.07 2197.61) scale(1 1.07)">1</text><path d="M1169.5 2075.95H1176" class="m"/><text class="t" font-size="27.67" transform="translate(1147.1 2087.08) scale(1 1.07)">2</text><path d="M1169.5 1965.27H1176" class="m"/><text class="t" font-size="27.67" transform="translate(1146.93 1976.26) scale(1 1.07)">3</text><text class="t" font-size="31.5" transform="translate(1212.26 2356.2) scale(1 1.14)">HC</text><text class="t" font-size="31.5" transform="translate(1316.39 2356.2) scale(1 1.14)">MCS</text><text class="t" font-size="31.5" transform="translate(1432.87 2356.2) scale(1 1.14)">UWS</text><text class="t" font-size="39.4" transform="translate(1132.43 2134.15) rotate(-90) scale(1 1.045)">HFn</text></g>
</svg>
</body></html>
